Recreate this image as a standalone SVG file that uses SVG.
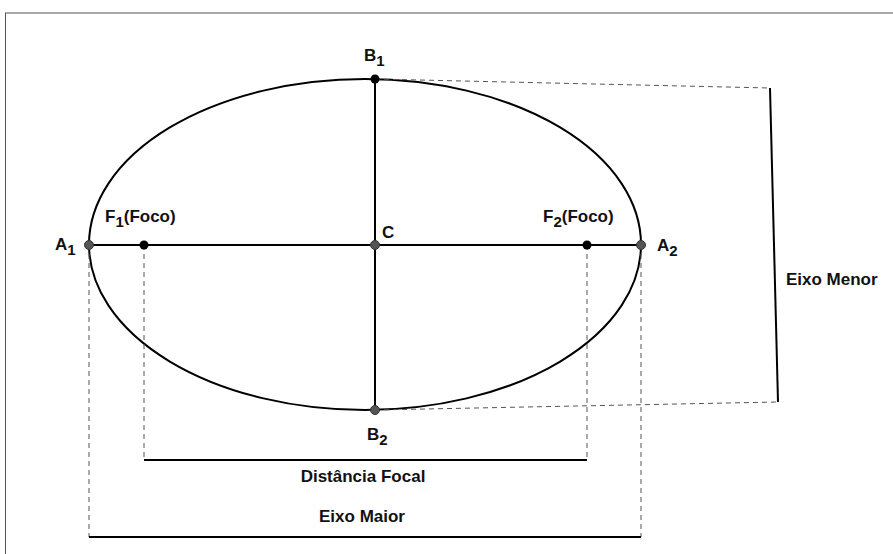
<svg xmlns="http://www.w3.org/2000/svg" width="893" height="554" viewBox="0 0 893 554">
<style>
.t{font-family:"Liberation Sans",Arial,sans-serif;font-weight:bold;font-size:17px;fill:#111}
.s{font-size:15px}
.solid{stroke:#000;stroke-width:2;fill:none}
.dash{stroke:#555;stroke-width:1;stroke-dasharray:5,4;fill:none}
.gp{fill:#555;stroke:#333;stroke-width:1}
.bp{fill:#000}
</style>
<rect x="5.5" y="13" width="900" height="560" fill="#fff" stroke="#555" stroke-width="1"/>
<g id="connectors">
<ellipse class="solid" cx="365" cy="244.5" rx="276" ry="165.5"/>
<line class="solid" x1="89" y1="245" x2="641" y2="245"/>
<line class="solid" x1="375" y1="79" x2="375" y2="410"/>
<line class="dash" x1="89" y1="245" x2="89" y2="537"/>
<line class="dash" x1="641" y1="245" x2="641" y2="537"/>
<line class="dash" x1="144" y1="245" x2="144" y2="460"/>
<line class="dash" x1="587" y1="245" x2="587" y2="460"/>
<line class="solid" x1="144" y1="460" x2="587" y2="460"/>
<line class="solid" x1="89" y1="537" x2="641" y2="537"/>
<line class="dash" x1="375" y1="79" x2="770" y2="88"/>
<line class="dash" x1="375" y1="410" x2="778" y2="402"/>
<line class="solid" x1="770" y1="88" x2="778" y2="402"/>
</g>
<g id="A1"><circle class="gp" cx="89" cy="245" r="4.5"/><text class="t" x="55" y="250">A<tspan class="s" dy="5">1</tspan></text></g>
<g id="A2"><circle class="gp" cx="641" cy="245" r="4.5"/><text class="t" x="657" y="251">A<tspan class="s" dy="5">2</tspan></text></g>
<g id="F1"><circle class="bp" cx="144" cy="245" r="4.5"/><text class="t" x="105" y="222">F<tspan class="s" dy="5">1</tspan><tspan dy="-5">(Foco)</tspan></text></g>
<g id="F2"><circle class="bp" cx="587" cy="245" r="4.5"/><text class="t" x="543" y="222">F<tspan class="s" dy="5">2</tspan><tspan dy="-5">(Foco)</tspan></text></g>
<g id="C"><circle class="gp" cx="375" cy="245" r="4.5"/><text class="t" x="382" y="238">C</text></g>
<g id="B1"><circle class="bp" cx="375" cy="79" r="4.5"/><text class="t" x="364" y="61">B<tspan class="s" dy="5">1</tspan></text></g>
<g id="B2"><circle class="gp" cx="375" cy="410" r="4.5"/><text class="t" x="367" y="440">B<tspan class="s" dy="5">2</tspan></text></g>
<g id="EixoMenor"><text class="t" x="786" y="285">Eixo Menor</text></g>
<g id="DistFocal"><text class="t" x="363" y="482" text-anchor="middle">Distância Focal</text></g>
<g id="EixoMaior"><text class="t" x="362" y="522" text-anchor="middle">Eixo Maior</text></g>
</svg>
